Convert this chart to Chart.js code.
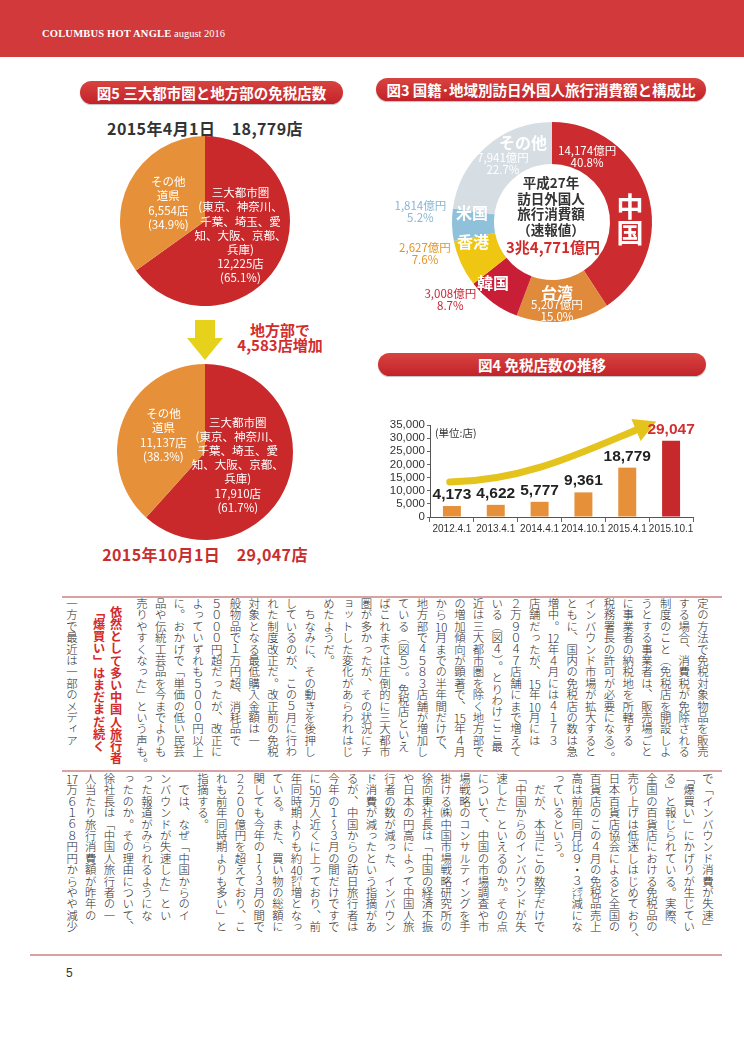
<!DOCTYPE html>
<html lang="ja">
<head>
<meta charset="UTF-8">
<title>免税店数の推移</title>
<script src="https://cdn.jsdelivr.net/npm/chart.js"></script>
<style>
  body { margin: 0; background: #fff; }
  #page { position: relative; width: 744px; height: 1052px; overflow: hidden; font-family: 'Noto Sans CJK JP', sans-serif; color: #222; }
  .header { position: absolute; left: 0; top: 0; width: 744px; height: 57px; background: #d1393a; }
  .header span { position: absolute; left: 42px; top: 28px; color: #fff; font: 10.5px 'Liberation Serif', serif; white-space: nowrap; }
  .header b { font-weight: bold; letter-spacing: 0.2px; }
  .pill { position: absolute; height: 23px; border-radius: 12px; background: linear-gradient(#d8443f, #c2222a); color: #fff; font-weight: bold; font-size: 14.5px; line-height: 23px; text-align: center; white-space: nowrap; box-shadow: 0 1px 1px rgba(0,0,0,.25); }
  .ttl { position: absolute; font-weight: bold; white-space: nowrap; text-align: center; }
  .box { position: absolute; }
  .rule { position: absolute; height: 1.5px; background: #d8a2a2; }
  .vt { position: absolute; writing-mode: vertical-rl; font-size: 11.4px; font-weight: 300; line-height: 18.7px; white-space: nowrap; color: #2a2a2a; }
  .tcy { text-combine-upright: all; }
  .hl { color: #d42a2a; font-weight: bold; font-size: 12.2px; line-height: 17px; }
</style>
</head>
<body>
<div id="page">
  <div class="header"><span><b>COLUMBUS HOT ANGLE</b> august 2016</span></div>

  <!-- 図5 -->
  <div class="pill" style="left:80px; top:81px; width:263px;">図5 三大都市圏と地方部の免税店数</div>
  <div class="ttl" id="t1" style="left:80px; top:116px; width:250px; font-size:16px; color:#333; letter-spacing:0.4px;"></div>
  <div class="box" style="left:115px; top:131px;"><canvas id="pieApr" width="180" height="180"></canvas></div>
  <svg style="position:absolute; left:185px; top:318px;" width="42" height="44">
    <polygon points="10,2 30,2 30,20 38,20 20,42 2,20 10,20" fill="#e6d21a"/>
  </svg>
  <div class="ttl" id="t2" style="left:225px; top:322px; width:110px; font-size:15px; line-height:15px; color:#d22c2c;"></div>
  <div class="box" style="left:115px; top:362px;"><canvas id="pieOct" width="180" height="180"></canvas></div>
  <div class="ttl" id="t3" style="left:80px; top:542px; width:250px; font-size:16px; color:#c92e2e; letter-spacing:0.4px;"></div>

  <!-- 図3 -->
  <div class="pill" style="left:376px; top:78px; width:330px;">図3 国籍･地域別訪日外国人旅行消費額と構成比</div>
  <div class="box" style="left:382px; top:112px;"><canvas id="ring" width="340" height="220"></canvas></div>

  <!-- 図4 -->
  <div class="pill" style="left:378px; top:353px; width:328px;">図4 免税店数の推移</div>
  <div class="box" style="left:370px; top:413px;"><canvas id="bars" width="340" height="125"></canvas></div>

  <div class="rule" style="left:62px; top:596px; width:660px;"></div>
  <div class="rule" style="left:62px; top:770px; width:660px;"></div>
  <div class="rule" style="left:30px; top:954px; width:692px;"></div>

  <div class="vt" style="right:32px; top:598px;">定の方法で免税対象物品を販売<br>する場合、消費税が免除される<br>制度のこと（免税店を開設しよ<br>うとする事業者は、販売場ごと<br>に事業者の納税地を所轄する<br>税務署長の許可が必要になる）。<br>インバウンド市場が拡大すると<br>ともに、国内の免税店の数は急<br>増中。<span class="tcy">12</span>年４月には４１７３<br>店舗だったが、<span class="tcy">15</span>年<span class="tcy">10</span>月には<br>２万９０４７店舗にまで増えて<br>いる（図４）。とりわけここ最<br>近は三大都市圏を除く地方部で<br>の増加傾向が顕著で、<span class="tcy">15</span>年４月<br>から<span class="tcy">10</span>月までの半年間だけで、<br>地方部で４５８３店舗が増加し<br>ている（図５）。免税店といえ<br>ばこれまでは圧倒的に三大都市<br>圏が多かったが、その状況にチ<br>ョットした変化があらわれはじ<br>めたようだ。<br>　ちなみに、その動きを後押し<br>しているのが、この５月に行わ<br>れた制度改正だ。改正前の免税<br>対象となる最低購入金額は一<br>般物品で１万円超、消耗品で<br>５０００円超だったが、改正に<br>よっていずれも５０００円以上<br>に。おかげで「単価の低い民芸<br>品や伝統工芸品を今までよりも<br>売りやすくなった」という声も。</div>
  <div class="vt hl" style="right:620px; top:606px;">依然として多い中国人旅行者<br>「爆買い」はまだまだ続く</div>
  <div class="vt" style="right:663px; top:598px;">一方で最近は一部のメディア</div>

  <div class="vt" style="right:27px; top:773px;">で「インバウンド消費が失速」<br>「爆買い」にかげりが生じてい<br>る」と報じられている。実際、<br>全国の百貨店における免税品の<br>売り上げは低迷しはじめており、<br>日本百貨店協会によると全国の<br>百貨店のこの４月の免税品売上<br>高は前年同月比９・３㌽減にな<br>っているという。<br>　だが、本当にこの数字だけで<br>「中国からのインバウンドが失<br>速した」といえるのか。その点<br>について、中国の市場調査や市<br>場戦略のコンサルティングを手<br>掛ける㈱中国市場戦略研究所の<br>徐向東社長は「中国の経済不振<br>や日本の円高によって中国人旅<br>行者の数が減った、インバウン<br>ド消費が減ったという指摘があ<br>るが、中国からの訪日旅行者は<br>今年の１～３月の間だけですで<br>に<span class="tcy">50</span>万人近くに上っており、前<br>年同時期よりも約<span class="tcy">40</span>㌫増となっ<br>ている。また、買い物の総額に<br>関しても今年の１～３月の間で<br>２２００億円を超えており、こ<br>れも前年同時期よりも多い」と<br>指摘する。<br>　では、なぜ「中国からのイ<br>ンバウンドが失速した」とい<br>った報道がみられるようにな<br>ったのか。その理由について、<br>徐社長は「中国人旅行者の一<br>人当たり旅行消費額が昨年の<br><span class="tcy">17</span>万６１６８円円からやや減少</div>

  <div style="position:absolute; left:66px; top:966px; font:12px 'Liberation Sans', sans-serif; color:#333;">5</div>
</div>

<script>
  // 図5: free-tax stores by area
  const areaNames = [
    ['三大都市圏', '(東京、神奈川、', '千葉、埼玉、愛', '知、大阪、京都、', '兵庫)'],
    ['その他', '道県']
  ];
  const storesApr2015 = [12225, 6554];
  const storesOct2015 = [17910, 11137];

  // 図3: spending by nationality (億円)
  const nations = ['中国', '台湾', '韓国', '香港', '米国', 'その他'];
  const spending = [14174, 5207, 3008, 2627, 1814, 7941];
  const spendShare = [40.8, 15.0, 8.7, 7.6, 5.2, 22.7];

  // 図4: number of duty-free stores
  const surveyDates = ['2012.4.1', '2013.4.1', '2014.4.1', '2014.10.1', '2015.4.1', '2015.10.1'];
  const storeCounts = [4173, 4622, 5777, 9361, 18779, 29047];
  const yMax = 35000;
  const yStep = 5000;

  const JP = "'Noto Sans CJK JP', sans-serif";
  const RED = '#c9292b';
  const ORANGE = '#e6903a';
  const fmt = v => v.toLocaleString('en-US');
  const sum = a => a.reduce((s, v) => s + v, 0);

  document.getElementById('t1').textContent = '2015年4月1日　' + fmt(sum(storesApr2015)) + '店';
  document.getElementById('t3').textContent = '2015年10月1日　' + fmt(sum(storesOct2015)) + '店';
  document.getElementById('t2').innerHTML = '地方部で<br>' + fmt(storesOct2015[1] - storesApr2015[1]) + '店増加';

  function drawLines(ctx, lines, x, y, font, color, lh) {
    ctx.save();
    ctx.font = font;
    ctx.fillStyle = color;
    ctx.textAlign = 'center';
    ctx.textBaseline = 'middle';
    const top = y - (lines.length - 1) * lh / 2;
    lines.forEach((t, i) => ctx.fillText(t, x, top + i * lh));
    ctx.restore();
  }

  // text placed around the pie centre: theta in degrees from 12 o'clock, r as share of radius
  function arcText(id, items) {
    return {
      id,
      afterDatasetsDraw(chart) {
        const arc = chart.getDatasetMeta(0).data[0];
        items.forEach(it => {
          const a = it.theta * Math.PI / 180;
          const x = arc.x + Math.sin(a) * it.r * arc.outerRadius;
          const y = arc.y - Math.cos(a) * it.r * arc.outerRadius;
          drawLines(chart.ctx, it.lines, x, y, it.font, it.color, it.lh);
        });
      }
    };
  }

  function areaPie(canvasId, values, pad, spots) {
    const total = sum(values);
    const items = values.map((v, i) => ({
      theta: spots[i][0], r: spots[i][1],
      lines: [...areaNames[i], fmt(v) + '店', '(' + (v / total * 100).toFixed(1) + '%)'],
      font: '11.5px ' + JP, color: '#fff', lh: 14.2
    }));
    return new Chart(document.getElementById(canvasId), {
      type: 'pie',
      data: {
        labels: areaNames.map(n => n[0]),
        datasets: [{ data: values, backgroundColor: [RED, ORANGE], borderWidth: 0 }]
      },
      options: {
        responsive: false,
        animation: false,
        layout: { padding: pad },
        plugins: { legend: { display: false }, tooltip: { enabled: false } }
      },
      plugins: [arcText(canvasId + 'Text', items)]
    });
  }

  areaPie('pieApr', storesApr2015, 5, [[112, 0.45], [296, 0.48]]);
  areaPie('pieOct', storesOct2015, 2, [[111.5, 0.40], [292, 0.51]]);

  // 図3 doughnut
  const ringColors = ['#cc2c2f', '#e08a3c', '#c81e36', '#efc612', '#8fc1da', '#d6dee4'];
  const nameSpots = [[88.5, 0.78], [176, 0.71], [224, 0.85], [255.8, 0.815], [276.4, 0.805], [339.8, 0.84]];
  const valueSpots = [[28.3, 0.74], [176.8, 0.89], [232.6, 1.28], [255.9, 1.31], [274.3, 1.32], [319.8, 0.76]];
  const valueColors = ['#fff', '#fff', '#c82838', '#e2962a', '#86b8d6', '#fff'];
  const ringItems = [];
  nations.forEach((n, i) => {
    const big = i === 0;
    ringItems.push({
      theta: nameSpots[i][0], r: nameSpots[i][1],
      lines: big ? n.split('') : [n],
      font: 'bold ' + (big ? 27 : 16) + 'px ' + JP, color: '#fff', lh: big ? 26 : 16
    });
    ringItems.push({
      theta: valueSpots[i][0], r: valueSpots[i][1],
      lines: [fmt(spending[i]) + '億円', spendShare[i].toFixed(1) + '%'],
      font: '11.5px ' + JP, color: valueColors[i], lh: 12
    });
  });
  const totalSpend = sum(spending);
  const centreText = {
    id: 'centreText',
    afterDatasetsDraw(chart) {
      const arc = chart.getDatasetMeta(0).data[0];
      drawLines(chart.ctx, ['平成27年', '訪日外国人', '旅行消費額', '（速報値）'],
        arc.x - 1, arc.y - 15.5, 'bold 13.5px ' + JP, '#333', 15.5);
      const oku = totalSpend % 10000;
      drawLines(chart.ctx, [Math.floor(totalSpend / 10000) + '兆' + fmt(oku) + '億円'],
        arc.x + 1, arc.y + 25, 'bold 15px ' + JP, '#d02a2a', 15);
    }
  };

  new Chart(document.getElementById('ring'), {
    type: 'doughnut',
    data: {
      labels: nations,
      datasets: [{ data: spending, backgroundColor: ringColors, borderWidth: 0 }]
    },
    options: {
      responsive: false,
      animation: false,
      cutout: '58%',
      layout: { padding: { left: 20, right: 20, top: 10, bottom: 10 } },
      plugins: { legend: { display: false }, tooltip: { enabled: false } }
    },
    plugins: [arcText('ringText', ringItems), centreText]
  });

  // 図4 bars
  const trendArrow = {
    id: 'trendArrow',
    afterDatasetsDraw(chart) {
      const xs = chart.scales.x, ys = chart.scales.y, ctx = chart.ctx;
      const p = (i, v) => [xs.getPixelForValue(i), ys.getPixelForValue(v)];
      const p0 = p(-0.05, 13300), p1 = p(1.6, 13700), p2 = p(2.9, 24000), p3 = p(4.2, 33100);
      ctx.save();
      ctx.strokeStyle = '#e4c41c';
      ctx.fillStyle = '#e4c41c';
      ctx.lineWidth = 7;
      ctx.lineCap = 'round';
      ctx.beginPath();
      ctx.moveTo(...p0);
      ctx.bezierCurveTo(...p1, ...p2, ...p3);
      ctx.stroke();
      const dx = p3[0] - p2[0], dy = p3[1] - p2[1], len = Math.hypot(dx, dy);
      const ux = dx / len, uy = dy / len;
      ctx.beginPath();
      ctx.moveTo(p3[0] + ux * 22, p3[1] + uy * 22);
      ctx.lineTo(p3[0] - uy * 12, p3[1] + ux * 12);
      ctx.lineTo(p3[0] + uy * 12, p3[1] - ux * 12);
      ctx.closePath();
      ctx.fill();
      ctx.restore();
    }
  };
  const barValues = {
    id: 'barValues',
    afterDatasetsDraw(chart) {
      const ctx = chart.ctx;
      const bars = chart.getDatasetMeta(0).data;
      ctx.save();
      ctx.font = "bold 15.5px 'Liberation Sans', sans-serif";
      ctx.textAlign = 'center';
      ctx.textBaseline = 'alphabetic';
      bars.forEach((b, i) => {
        ctx.fillStyle = i === bars.length - 1 ? '#d0302f' : '#222';
        ctx.fillText(fmt(storeCounts[i]), b.x, b.y - 7);
      });
      ctx.font = '10.5px ' + JP;
      ctx.fillStyle = '#333';
      ctx.textAlign = 'left';
      ctx.textBaseline = 'middle';
      ctx.fillText('(単位:店)', chart.chartArea.left + 5, chart.chartArea.top + 8);
      ctx.restore();
    }
  };

  new Chart(document.getElementById('bars'), {
    type: 'bar',
    data: {
      labels: surveyDates,
      datasets: [{
        data: storeCounts,
        backgroundColor: storeCounts.map((v, i) => i === storeCounts.length - 1 ? '#c6282b' : ORANGE),
        barPercentage: 0.41,
        categoryPercentage: 1
      }]
    },
    options: {
      responsive: false,
      animation: false,
      layout: { padding: { top: 12, right: 17, left: 0, bottom: 0 } },
      plugins: { legend: { display: false }, tooltip: { enabled: false } },
      scales: {
        x: {
          afterFit: s => { s.height = 21; },
          grid: { drawOnChartArea: false, offset: true, tickLength: 5, color: '#666' },
          border: { color: '#555' },
          ticks: { autoSkip: false, maxRotation: 0, padding: 1, color: '#333',
            font: { family: "'Liberation Sans', sans-serif", size: 10 } }
        },
        y: {
          min: 0, max: yMax,
          afterFit: s => { s.width = 60; },
          grid: { drawOnChartArea: false, tickLength: 3, color: '#666' },
          border: { color: '#555' },
          ticks: { stepSize: yStep, autoSkip: false, padding: 2, color: '#333', callback: v => fmt(v),
            font: { family: "'Liberation Sans', sans-serif", size: 11.5 } }
        }
      }
    },
    plugins: [trendArrow, barValues]
  });
</script>
</body>
</html>
